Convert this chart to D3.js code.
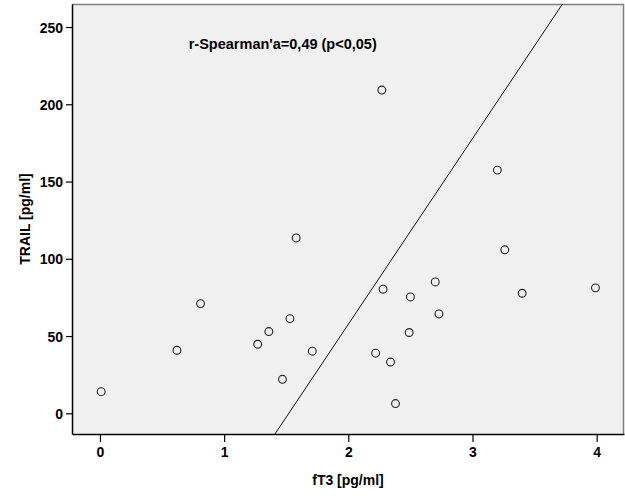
<!DOCTYPE html>
<html>
<head>
<meta charset="utf-8">
<script src="https://cdn.jsdelivr.net/npm/d3@7"></script>
<style>
  body { margin: 0; background: #fff; }
  svg { display: block; font-family: Arial, "Liberation Sans", sans-serif; }
  .tick text { font-size: 14px; font-weight: bold; fill: #000; }
</style>
</head>
<body>
<svg width="625" height="500"></svg>
<script>
// fT3 [pg/ml] vs TRAIL [pg/ml]
const ft3 =   [0.01, 0.62, 0.81, 1.27, 1.36, 1.47, 1.53, 1.58, 1.71, 2.22, 2.27, 2.28, 2.34, 2.38, 2.49, 2.50, 2.70, 2.73, 3.20, 3.26, 3.40, 3.99];
const trail = [14.0, 40.8, 71.0, 44.7, 52.9, 22.0, 61.3, 113.5, 40.2, 38.9, 209.2, 80.3, 33.2, 6.3, 52.3, 75.3, 85.0, 64.3, 157.4, 105.8, 77.7, 81.2];

const xTicks = [0, 1, 2, 3, 4];
const yTicks = [0, 50, 100, 150, 200, 250];

// fitted line: TRAIL = slope * fT3 + intercept
const lineSlope = 120.2;
const lineIntercept = -182.8;

const annotation = "r-Spearman'a=0,49 (p<0,05)";
const xTitle = "fT3 [pg/ml]";
const yTitle = "TRAIL [pg/ml]";

const svg = d3.select("svg");
const margin = { left: 72, top: 4, right: 1, bottom: 66 };
const width = 625 - margin.left - margin.right;
const height = 500 - margin.top - margin.bottom;

const xDomain = [-0.225, 4.22];
const yDomain = [-13.4, 264.9];

const x = d3.scaleLinear().domain(xDomain).range([0, width]);
const y = d3.scaleLinear().domain(yDomain).range([height, 0]);

const g = svg.append("g").attr("transform", `translate(${margin.left},${margin.top})`);

g.append("rect")
  .attr("width", width).attr("height", height)
  .attr("fill", "#f0f0f0");

// top and right frame
g.append("path")
  .attr("d", `M0,0.5H${width - 0.5}V${height}`)
  .attr("fill", "none").attr("stroke", "#7f7f7f").attr("stroke-width", 1.5);

svg.append("clipPath").attr("id", "plot-clip")
  .append("rect").attr("width", width).attr("height", height);

g.append("line")
  .attr("clip-path", "url(#plot-clip)")
  .attr("x1", x(xDomain[0])).attr("y1", y(lineSlope * xDomain[0] + lineIntercept))
  .attr("x2", x(xDomain[1])).attr("y2", y(lineSlope * xDomain[1] + lineIntercept))
  .attr("stroke", "#111").attr("stroke-width", 1);

g.append("g")
  .selectAll("circle")
  .data(ft3.map((d, i) => ({ x: d, y: trail[i] })))
  .enter().append("circle")
  .attr("cx", d => x(d.x))
  .attr("cy", d => y(d.y))
  .attr("r", 3.9)
  .attr("fill", "none")
  .attr("stroke", "#222")
  .attr("stroke-width", 1.1);

const xAxis = g.append("g")
  .attr("transform", `translate(0,${height})`)
  .call(d3.axisBottom(x).tickValues(xTicks).tickFormat(d3.format("d")).tickSize(8).tickPadding(5).tickSizeOuter(0));

const yAxis = g.append("g")
  .call(d3.axisLeft(y).tickValues(yTicks).tickFormat(d3.format("d")).tickSize(6).tickPadding(3).tickSizeOuter(0));

[xAxis, yAxis].forEach(a => {
  a.select(".domain").attr("stroke", "#000").attr("stroke-width", 1.5);
  a.selectAll(".tick line").attr("stroke", "#000").attr("stroke-width", 1.2);
  a.selectAll(".tick text").attr("font-size", 14);
});
yAxis.selectAll(".tick text").attr("dy", "0.36em");

g.append("text")
  .attr("x", x(0.715)).attr("y", y(235.5))
  .attr("font-size", 14.5).attr("font-weight", "bold")
  .text(annotation);

svg.append("text")
  .attr("x", margin.left + width / 2).attr("y", 485)
  .attr("text-anchor", "middle")
  .attr("font-size", 14).attr("font-weight", "bold")
  .text(xTitle);

svg.append("text")
  .attr("transform", `translate(30,${margin.top + height / 2}) rotate(-90)`)
  .attr("text-anchor", "middle")
  .attr("font-size", 14).attr("font-weight", "bold")
  .text(yTitle);
</script>
</body>
</html>
